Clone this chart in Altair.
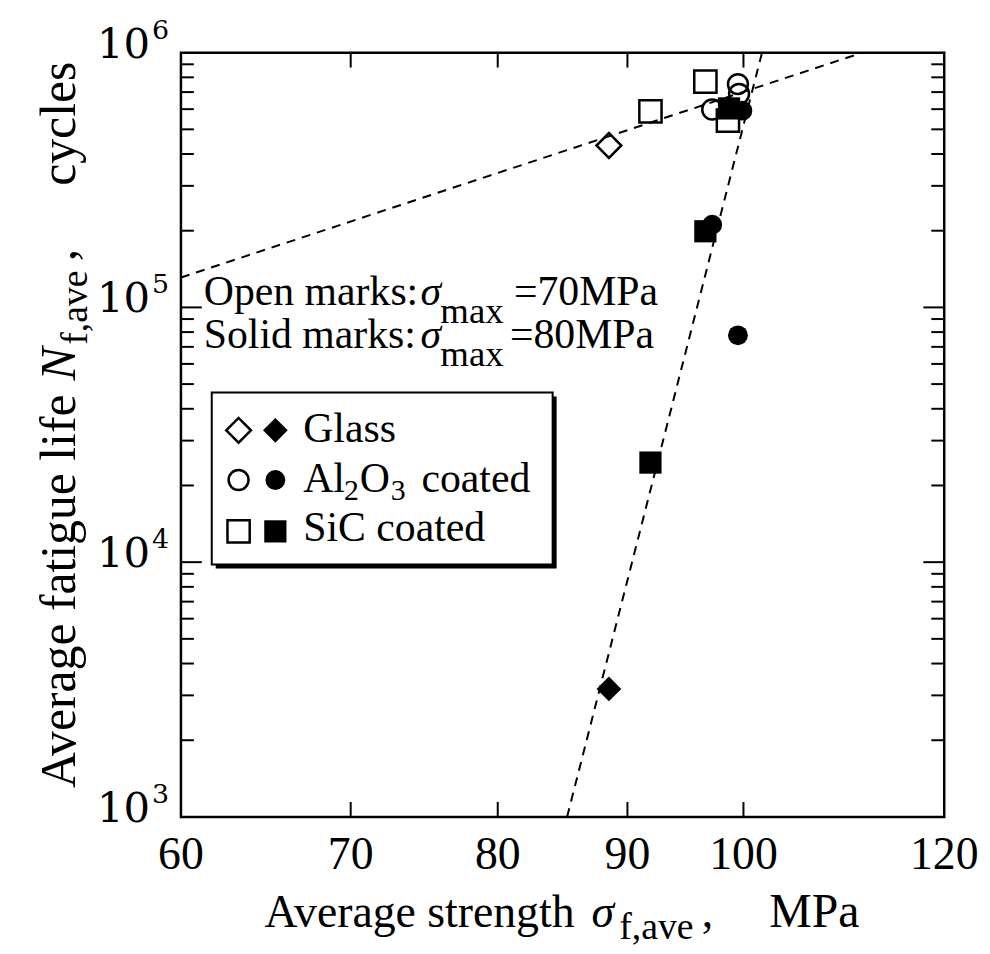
import altair as alt
import pandas as pd

W, H = 768, 769
SERIF = "Liberation Serif"

# ---------------- data ----------------
materials = ["Glass", "Al2O3", "SiC"]
shapes = ["diamond", "circle", "square"]
sizes = [620, 400, 500]

open_material = ["Glass", "Al2O3", "Al2O3", "Al2O3", "SiC", "SiC", "SiC"]
open_strength = [88.5, 99.5, 99.6, 97.2, 91.9, 96.6, 98.6]
open_life = [4.32e5, 7.52e5, 6.88e5, 5.98e5, 5.88e5, 7.70e5, 5.41e5]

solid_material = ["Glass", "Al2O3", "Al2O3", "Al2O3", "SiC", "SiC", "SiC"]
solid_strength = [88.5, 99.9, 97.2, 99.5, 98.7, 96.6, 91.9]
solid_life = [3.18e3, 5.92e5, 2.11e5, 7.77e4, 6.04e5, 1.99e5, 2.46e4]

fit70_strength = [60, 111.4]
fit70_life = [1.31e5, 1e6]
fit80_strength = [85.2, 101.7]
fit80_life = [1e3, 1e6]

x_ticks = [60, 70, 80, 90, 100, 120]
y_major = [1e3, 1e4, 1e5, 1e6]
y_exponents = ["3", "4", "5", "6"]
y_minor = [m * 10 ** k for k in (3, 4, 5) for m in range(2, 10)]

# ---------------- scales ----------------
xs = alt.Scale(type="log", domain=[60, 120], nice=False)
ys = alt.Scale(type="log", domain=[1e3, 1e6], nice=False)

def X(f):
    return alt.X(f, scale=xs, axis=None)

def Y(f):
    return alt.Y(f, scale=ys, axis=None)

one = pd.DataFrame({"a": [0]})

def txt(s, x, y, size, italic=False, align="left", angle=0, font=SERIF):
    return alt.Chart(one).mark_text(
        text=s, font=font, fontSize=size,
        fontStyle="italic" if italic else "normal",
        align=align, baseline="alphabetic", angle=angle, color="black"
    ).encode(x=alt.value(x), y=alt.value(y))

layers = []

# fit lines
for xs_, ys_ in [(fit70_strength, fit70_life), (fit80_strength, fit80_life)]:
    df = pd.DataFrame({"s": xs_, "n": ys_})
    layers.append(alt.Chart(df).mark_line(color="black", strokeWidth=2, strokeDash=[9, 7], clip=True)
                  .encode(x=X("s:Q"), y=Y("n:Q")))

# ticks (inward, all four sides)
tx = pd.DataFrame({"v": x_ticks[1:-1]})
layers.append(alt.Chart(tx).mark_rule(color="black", strokeWidth=2).encode(x=X("v:Q"), y=alt.value(H), y2=alt.value(H - 15)))
layers.append(alt.Chart(tx).mark_rule(color="black", strokeWidth=2).encode(x=X("v:Q"), y=alt.value(0), y2=alt.value(15)))
tmaj = pd.DataFrame({"v": y_major[1:-1]})
tmin = pd.DataFrame({"v": y_minor})
for df, ln in [(tmaj, 21), (tmin, 13)]:
    layers.append(alt.Chart(df).mark_rule(color="black", strokeWidth=2).encode(y=Y("v:Q"), x=alt.value(0), x2=alt.value(ln)))
    layers.append(alt.Chart(df).mark_rule(color="black", strokeWidth=2).encode(y=Y("v:Q"), x=alt.value(W), x2=alt.value(W - ln)))

# open marks, then solid marks on top
odf = pd.DataFrame({"m": open_material, "s": open_strength, "n": open_life})
sdf = pd.DataFrame({"m": solid_material, "s": solid_strength, "n": solid_life})
for mat, shp, sz in zip(materials, shapes, sizes):
    layers.append(alt.Chart(odf).transform_filter(alt.datum.m == mat)
                  .mark_point(shape=shp, size=sz, filled=False, color="black", strokeWidth=2.5, opacity=1)
                  .encode(x=X("s:Q"), y=Y("n:Q")))
for mat, shp, sz in zip(materials, shapes, sizes):
    layers.append(alt.Chart(sdf).transform_filter(alt.datum.m == mat)
                  .mark_point(shape=shp, size=sz, filled=True, color="black", opacity=1)
                  .encode(x=X("s:Q"), y=Y("n:Q")))

# x tick labels
layers.append(alt.Chart(pd.DataFrame({"v": x_ticks})).mark_text(
    font=SERIF, fontSize=46, align="center", baseline="alphabetic", color="black")
    .encode(x=X("v:Q"), y=alt.value(H + 52), text=alt.Text("v:Q", format="d")))

# y tick labels 10^k
ydf = pd.DataFrame({"v": y_major, "e": y_exponents})
layers.append(alt.Chart(ydf).mark_text(text="10", font="DejaVu Serif", fontSize=42, align="right",
                                       baseline="alphabetic", dy=5, color="black")
              .encode(y=Y("v:Q"), x=alt.value(-31)))
layers.append(alt.Chart(ydf).mark_text(font="DejaVu Serif", fontSize=27, align="left",
                                       baseline="alphabetic", dy=-14, color="black")
              .encode(y=Y("v:Q"), x=alt.value(-29), text="e:N"))

# x title
layers += [
    txt("Average strength", 84, 880, 46),
    txt("\u03c3", 413, 880, 46, italic=True),
    txt("f,ave", 441, 892, 38),
    txt(",", 524, 880, 46),
    txt("MPa", 592, 880, 48),
]

# y title (rotated)
layers += [
    txt("Average fatigue life", -107, 740, 50, angle=270),
    txt("N", -107, 330, 50, italic=True, angle=270),
    txt("f,ave", -95, 294, 38, angle=270),
    txt(",", -107, 210, 50, angle=270),
    txt("cycles", -107, 134, 50, angle=270),
]

# annotation
layers += [
    txt("Open marks:", 23, 254, 42),
    txt("\u03c3", 241, 254, 42, italic=True),
    txt("max", 261, 272, 37),
    txt("=70MPa", 335, 254, 42),
    txt("Solid marks:", 23, 297, 42),
    txt("\u03c3", 241, 297, 42, italic=True),
    txt("max", 261, 315, 37),
    txt("=80MPa", 331, 297, 42),
]

# legend box with shadow
bx0, by0, bx1, by1 = 31, 342, 374, 515
layers.append(alt.Chart(one).mark_rect(color="black").encode(
    x=alt.value(bx0 + 4), x2=alt.value(bx1 + 4), y=alt.value(by0 + 4), y2=alt.value(by1 + 4)))
layers.append(alt.Chart(one).mark_rect(fill="white", stroke="black", strokeWidth=2).encode(
    x=alt.value(bx0), x2=alt.value(bx1), y=alt.value(by0), y2=alt.value(by1)))

rows_y = [380, 430, 481.7]
for (shp, sz), ry in zip(zip(shapes, sizes), rows_y):
    layers.append(alt.Chart(one).mark_point(shape=shp, size=sz, filled=False, color="black", strokeWidth=2.5, opacity=1)
                  .encode(x=alt.value(58), y=alt.value(ry)))
    layers.append(alt.Chart(one).mark_point(shape=shp, size=sz, filled=True, color="black", opacity=1)
                  .encode(x=alt.value(95), y=alt.value(ry)))

layers += [
    txt("Glass", 123, 391.7, 42),
    txt("Al", 123, 441.7, 42),
    txt("2", 164, 450, 30),
    txt("O", 180, 441.7, 42),
    txt("3", 211, 450, 30),
    txt("coated", 242, 441.7, 42),
    txt("SiC coated", 123, 491.7, 42),
]

chart = alt.layer(*layers).properties(
    width=W, height=H,
    padding={"left": 174, "top": 42, "right": 38, "bottom": 134},
    autosize=alt.AutoSizeParams(type="none"),
    background="white",
).configure_view(stroke="black", strokeWidth=2.5)

chart.save("out.html", embed_options={"renderer": "svg", "actions": False})
